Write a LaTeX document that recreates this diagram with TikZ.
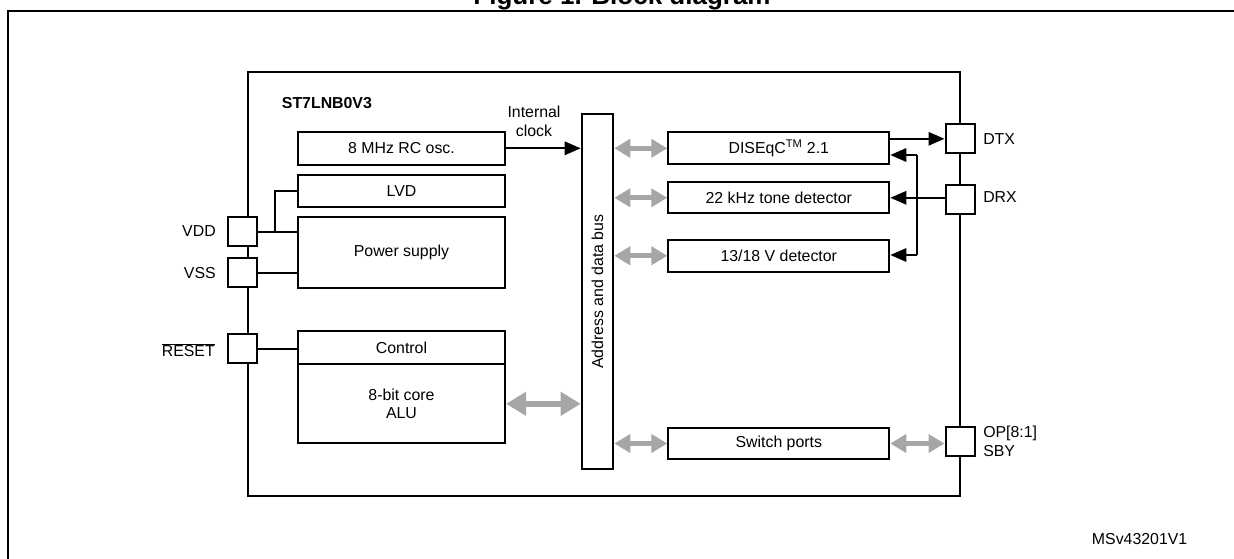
\documentclass[tikz,border=0pt]{standalone}
\usepackage{fontspec}
\setmainfont{Liberation Sans}
\usetikzlibrary{arrows.meta}
\tikzset{ blk/.style = { rectangle
                       , draw
                       , line width   = 1.5pt
                       , inner sep    = 0pt
                       , minimum width  = 155.25pt
                       },
          pin/.style = { rectangle
                       , draw
                       , line width   = 1.5pt
                       , fill         = white
                       , inner sep    = 0pt
                       , minimum size = 21.75pt
                       },
          wire/.style = { line width = 1.5pt },
          sig/.style  = { wire
                        , -{Triangle[length=12pt, width=10pt]}
                        },
          dbus/.style = { draw = black!35
                        , line width = 3.75pt
                        , {Triangle[length=12pt, width=13.5pt]}-{Triangle[length=12pt, width=13.5pt]}
                        },
          wbus/.style = { draw = black!35
                        , line width = 4.5pt
                        , {Triangle[length=15pt, width=17pt]}-{Triangle[length=15pt, width=17pt]}
                        },
          lbl/.style  = { inner sep = 0pt }
        }

\begin{document}
\begin{tikzpicture}[x=0.75pt, y=-0.75pt, font=\fontsize{11.9}{14}\selectfont]
      \useasboundingbox (0,0) rectangle (1234,558);
      % frame and caption
      \node[lbl, anchor=base, font=\fontsize{19.5}{22}\selectfont\bfseries] (title) at (622,4) {Figure 1. Block diagram};
      \draw[line width=1.5pt] (8,600) -- (8,10.5) -- (1240,10.5);
      \node[lbl, anchor=west] (ref) at (1091.7,539.3) {MSv43201V1};

      % chip outline
      \draw[wire] (247.7,72.3) rectangle (960,495.5);
      \node[lbl, anchor=west, font=\fontsize{11.9}{14}\selectfont\bfseries] (name) at (281.7,103) {ST7LNB0V3};

      % left column
      \node[blk, minimum height=24.75pt] (osc)  at (401.5,148.3) {8 MHz RC osc.};
      \node[blk, minimum height=24pt]    (lvd)  at (401.5,191.1) {LVD};
      \node[blk, minimum height=53.25pt] (psu)  at (401.5,252.2) {Power supply};
      \node[blk, minimum height=25pt]    (ctrl) at (401.5,347.7) {Control};
      \node[blk, minimum height=59.25pt, align=center] (core) at (401.5,403.8) {8-bit core\\ALU};

      % address and data bus
      \node[blk, minimum width=23.7pt, minimum height=266.25pt] (bus) at (597.5,291.8) {};
      \node[lbl, rotate=90] (buslbl) at (bus.center) {Address and data bus};
      \node[lbl, align=center] (clk) at (534,121.5) {Internal\\clock};

      % right column
      \node[blk, minimum width=165.75pt, minimum height=24pt]   (dsq)  at (778.8,148.3) {DISEqC\textsuperscript{TM} 2.1};
      \node[blk, minimum width=165.75pt, minimum height=23.25pt] (tone) at (778.8,197.8) {22 kHz tone detector};
      \node[blk, minimum width=165.75pt, minimum height=23.75pt] (vdet) at (778.8,255.8) {13/18 V detector};
      \node[blk, minimum width=165.75pt, minimum height=23.75pt] (sw)   at (778.8,443.5) {Switch ports};

      % pins
      \node[pin] (vdd) at (242,231.2) {};
      \node[pin] (vss) at (242,272.5) {};
      \node[pin] (rst) at (242,348.8) {};
      \node[pin] (dtx) at (960,138.8) {};
      \node[pin] (drx) at (960,199.6) {};
      \node[pin] (op)  at (960,441.3) {};
      \node[lbl, anchor=east] (vddl) at (216,231.5) {VDD};
      \node[lbl, anchor=east] (vssl) at (216,273) {VSS};
      \node[lbl, anchor=east] (rstl) at (215,350) {$\overline{\mbox{RESET}}$};
      \node[lbl, anchor=west] (dtxl) at (983,139) {DTX};
      \node[lbl, anchor=west] (drxl) at (983,197) {DRX};
      \node[lbl, anchor=west, align=left] (opl) at (983,441) {OP[8:1]\\SBY};

      % supply and reset wiring
      \coordinate (tap) at (275,231.5);
      \draw[wire] (vdd.east |- tap) -- (tap -| psu.west);
      \draw[wire] (tap) -- (tap |- lvd.west) -- (lvd.west);
      \draw[wire] (vss.east) -- (vss -| psu.west);
      \draw[wire] (rst.east) -- (rst -| ctrl.west);
      \draw[sig] (osc.east) -- (osc -| bus.west);

      % DiSEqC wiring
      \coordinate (jt) at (917.3,155);
      \coordinate (jb) at (917.3,255);
      \draw[sig] (dtx.west -| dsq.east) -- (dtx.west);
      \draw[sig] (drx.west |- tone) -- (tone.east);
      \draw[wire] (jt) -- (jb);
      \draw[sig] (jt) -- (jt -| dsq.east);
      \draw[sig] (jb) -- (jb -| vdet.east);

      % data paths
      \draw[dbus] (bus.east |- dsq) -- (dsq.west);
      \draw[dbus] (bus.east |- tone) -- (tone.west);
      \draw[dbus] (bus.east |- vdet) -- (vdet.west);
      \draw[dbus] (bus.east |- sw) -- (sw.west);
      \draw[dbus] (sw.east) -- (sw -| op.west);
      \draw[wbus] (core.east) -- (core -| bus.west);
\end{tikzpicture}
\end{document}
